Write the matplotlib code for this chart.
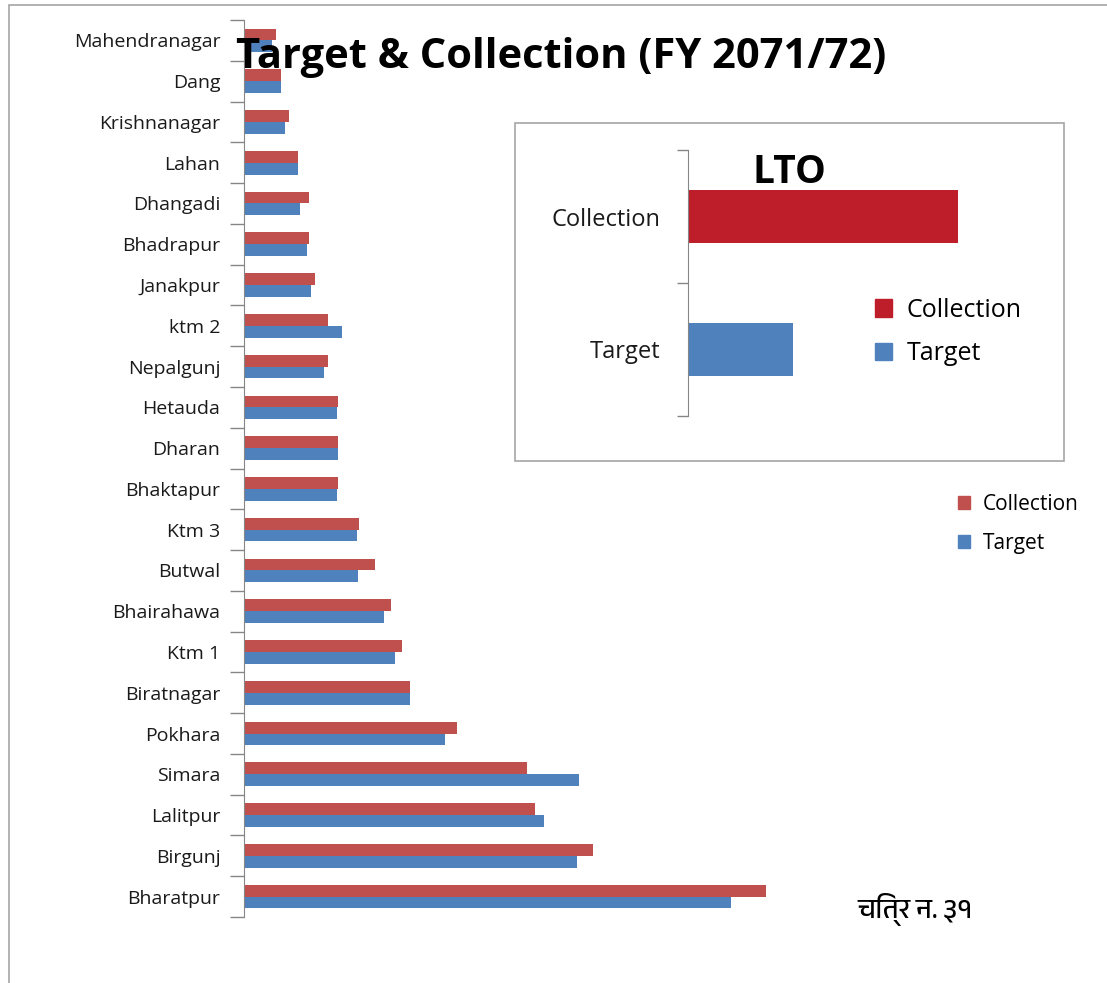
import matplotlib
matplotlib.use("Agg")
import matplotlib.pyplot as plt
from matplotlib import font_manager
from matplotlib.patches import Rectangle, Patch

offices = ["Mahendranagar", "Dang", "Krishnanagar", "Lahan", "Dhangadi", "Bhadrapur",
           "Janakpur", "ktm 2", "Nepalgunj", "Hetauda", "Dharan", "Bhaktapur",
           "Ktm 3", "Butwal", "Bhairahawa", "Ktm 1", "Biratnagar", "Pokhara",
           "Simara", "Lalitpur", "Birgunj", "Bharatpur"]
collection = [32, 37, 45, 54, 65, 65, 71, 84, 84, 94, 94, 94,
              115, 131, 147, 158, 166, 213, 283, 291, 349, 522]
target = [28, 37, 41, 54, 56, 63, 67, 98, 80, 93, 94, 93,
          113, 114, 140, 151, 166, 201, 335, 300, 333, 487]

lto_labels = ["Target", "Collection"]
lto_values = [105, 270]

red = "#C0504D"
blue = "#4F81BD"
lto_red = "#BE1E2A"
spine_gray = "#868686"

plt.rcParams['font.family'] = ['Open Sans', 'DejaVu Sans']

fig = plt.figure(figsize=(11.07, 9.83), dpi=100)
W, H = 1107, 983

def fx(px):
    return px / W

def fy(py):
    return 1 - py / H

# outer frame of the picture
fig.patches.append(Rectangle((fx(9), fy(1000)), 1.2, fy(5) - fy(1000), transform=fig.transFigure,
                             fill=False, edgecolor="#A6A6A6", linewidth=1.2))

# main chart
ax = fig.add_axes([fx(244), fy(917), fx(800) - fx(244), fy(20) - fy(917)])
n = len(offices)
ys = [n - 1 - i for i in range(n)]
h = 0.29
ax.barh([y + h / 2 for y in ys], collection, height=h, color=red, label="Collection")
ax.barh([y - h / 2 for y in ys], target, height=h, color=blue, label="Target")
ax.set_xlim(0, 556)
ax.set_ylim(-0.5, n - 0.5)
ax.set_yticks(ys)
ax.set_yticklabels(offices, fontsize=14)
ax.tick_params(axis="y", which="major", length=0, pad=17, labelcolor="#1a1a1a")
ax.set_yticks([i - 0.5 for i in range(n + 1)], minor=True)
ax.tick_params(axis="y", which="minor", length=10, color=spine_gray, width=1)
ax.set_xticks([])
for s in ["top", "right", "bottom"]:
    ax.spines[s].set_visible(False)
ax.spines["left"].set_color(spine_gray)
ax.patch.set_alpha(0)

fig.legend(handles=[Patch(color=red, label="Collection"), Patch(color=blue, label="Target")],
           loc="center left", bbox_to_anchor=(fx(939), fy(524)), frameon=False, fontsize=15,
           handlelength=0.6, handleheight=0.6, handletextpad=0.6, labelspacing=0.85)

# LTO inset
fig.patches.append(Rectangle((fx(515), fy(461)), fx(1064) - fx(515), fy(123) - fy(461),
                             transform=fig.transFigure, fill=True, facecolor="white",
                             edgecolor="#A6A6A6", linewidth=1.2, zorder=2))
ax2 = fig.add_axes([fx(688), fy(416), fx(1000) - fx(688), fy(150) - fy(416)], zorder=3)
ax2.barh([0, 1], lto_values, height=0.4, color=[blue, lto_red])
ax2.set_xlim(0, 312)
ax2.set_ylim(-0.5, 1.5)
ax2.set_yticks([0, 1])
ax2.set_yticklabels(lto_labels, fontsize=17)
ax2.tick_params(axis="y", which="major", length=0, pad=20, labelcolor="#1a1a1a")
ax2.set_yticks([-0.5, 0.5, 1.5], minor=True)
ax2.tick_params(axis="y", which="minor", length=8, color=spine_gray, width=1)
ax2.set_xticks([])
for s in ["top", "right", "bottom"]:
    ax2.spines[s].set_visible(False)
ax2.spines["left"].set_color(spine_gray)
ax2.patch.set_alpha(0)
fig.text(fx(789), fy(172), "LTO", fontsize=28, fontweight="bold", ha="center", va="center",
         zorder=5)
fig.legend(handles=[Patch(color=lto_red, label="Collection"), Patch(color=blue, label="Target")],
           loc="center left", bbox_to_anchor=(fx(852), fy(332)), frameon=False, fontsize=18,
           handlelength=0.7, handleheight=0.7, handletextpad=0.6, labelspacing=0.75)

# title
fig.text(fx(561), fy(58), "Target & Collection (FY 2071/72)", fontsize=30, fontweight="bold",
         ha="center", va="center", zorder=6)

# figure caption in Nepali
deva = [f.name for f in font_manager.fontManager.ttflist if "Devanagari" in f.name]
fig.text(fx(858), fy(910), "चित्र न. ३१", fontsize=20, fontweight="bold", ha="left", va="center",
         family=deva[:1] + ["Noto Sans", "DejaVu Sans"])

fig.savefig("out.png", dpi=100, facecolor="white")
